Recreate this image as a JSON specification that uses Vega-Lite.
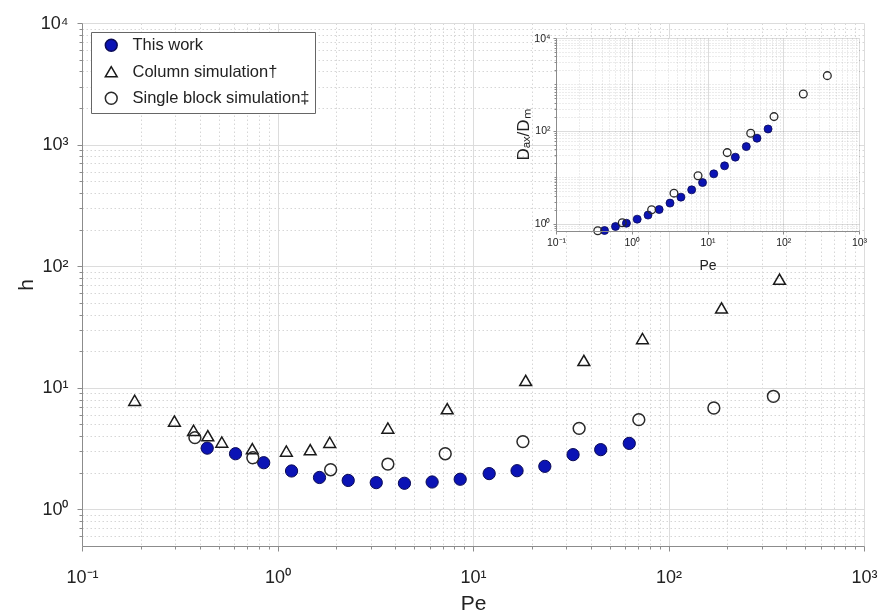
{
  "$schema": "https://vega.github.io/schema/vega-lite/v6.json",
  "width": 782,
  "height": 523,
  "autosize": {"type": "none"},
  "padding": {"left": 82, "top": 23, "right": 17, "bottom": 68},
  "background": "white",
  "config": {
    "view": {"stroke": null},
    "font": "Liberation Sans",
    "axis": {
      "labelFont": "Liberation Sans",
      "titleFont": "Liberation Sans",
      "titleFontWeight": "normal",
      "labelColor": "#222222",
      "titleColor": "#222222",
      "domainColor": "#8c8c8c",
      "tickColor": "#8c8c8c",
      "labelFlush": false,
      "labelOverlap": false
    },
    "legend": {"labelFont": "Liberation Sans", "labelColor": "#222222"}
  },
  "datasets": {
    "main": [
      {"series": "This work", "Pe": 0.437, "h": 3.19},
      {"series": "This work", "Pe": 0.61, "h": 2.87},
      {"series": "This work", "Pe": 0.85, "h": 2.42},
      {"series": "This work", "Pe": 1.18, "h": 2.07},
      {"series": "This work", "Pe": 1.64, "h": 1.83},
      {"series": "This work", "Pe": 2.3, "h": 1.73},
      {"series": "This work", "Pe": 3.2, "h": 1.66},
      {"series": "This work", "Pe": 4.46, "h": 1.64},
      {"series": "This work", "Pe": 6.18, "h": 1.68},
      {"series": "This work", "Pe": 8.6, "h": 1.77},
      {"series": "This work", "Pe": 12.1, "h": 1.97},
      {"series": "This work", "Pe": 16.8, "h": 2.08},
      {"series": "This work", "Pe": 23.3, "h": 2.26},
      {"series": "This work", "Pe": 32.5, "h": 2.82},
      {"series": "This work", "Pe": 45.0, "h": 3.1},
      {"series": "This work", "Pe": 63.0, "h": 3.49},
      {"series": "Column simulation†", "Pe": 0.186, "h": 7.89},
      {"series": "Column simulation†", "Pe": 0.297, "h": 5.33},
      {"series": "Column simulation†", "Pe": 0.372, "h": 4.47},
      {"series": "Column simulation†", "Pe": 0.44, "h": 4.04},
      {"series": "Column simulation†", "Pe": 0.519, "h": 3.58},
      {"series": "Column simulation†", "Pe": 0.743, "h": 3.16},
      {"series": "Column simulation†", "Pe": 1.11, "h": 3.02},
      {"series": "Column simulation†", "Pe": 1.47, "h": 3.1},
      {"series": "Column simulation†", "Pe": 1.85, "h": 3.56},
      {"series": "Column simulation†", "Pe": 3.67, "h": 4.67},
      {"series": "Column simulation†", "Pe": 7.38, "h": 6.74},
      {"series": "Column simulation†", "Pe": 18.6, "h": 11.5},
      {"series": "Column simulation†", "Pe": 36.9, "h": 16.8},
      {"series": "Column simulation†", "Pe": 73.6, "h": 25.4},
      {"series": "Column simulation†", "Pe": 186.7, "h": 45.4},
      {"series": "Column simulation†", "Pe": 369.6, "h": 78.2},
      {"series": "Single block simulation‡", "Pe": 0.378, "h": 3.89},
      {"series": "Single block simulation‡", "Pe": 0.748, "h": 2.66},
      {"series": "Single block simulation‡", "Pe": 1.87, "h": 2.12},
      {"series": "Single block simulation‡", "Pe": 3.67, "h": 2.36},
      {"series": "Single block simulation‡", "Pe": 7.21, "h": 2.87},
      {"series": "Single block simulation‡", "Pe": 18.0, "h": 3.61},
      {"series": "Single block simulation‡", "Pe": 34.9, "h": 4.64},
      {"series": "Single block simulation‡", "Pe": 70.5, "h": 5.47},
      {"series": "Single block simulation‡", "Pe": 170.6, "h": 6.82},
      {"series": "Single block simulation‡", "Pe": 344.0, "h": 8.51}
    ],
    "inset": [
      {"series": "This work", "Pe": 0.437, "Dax_Dm": 0.718},
      {"series": "This work", "Pe": 0.61, "Dax_Dm": 0.875},
      {"series": "This work", "Pe": 0.85, "Dax_Dm": 1.03},
      {"series": "This work", "Pe": 1.18, "Dax_Dm": 1.26},
      {"series": "This work", "Pe": 1.64, "Dax_Dm": 1.54},
      {"series": "This work", "Pe": 2.3, "Dax_Dm": 2.03},
      {"series": "This work", "Pe": 3.2, "Dax_Dm": 2.79},
      {"series": "This work", "Pe": 4.46, "Dax_Dm": 3.75},
      {"series": "This work", "Pe": 6.18, "Dax_Dm": 5.38},
      {"series": "This work", "Pe": 8.6, "Dax_Dm": 7.73},
      {"series": "This work", "Pe": 12.1, "Dax_Dm": 11.9},
      {"series": "This work", "Pe": 16.8, "Dax_Dm": 17.7},
      {"series": "This work", "Pe": 23.3, "Dax_Dm": 27.2},
      {"series": "This work", "Pe": 32.5, "Dax_Dm": 45.9},
      {"series": "This work", "Pe": 45.0, "Dax_Dm": 69.6},
      {"series": "This work", "Pe": 63.0, "Dax_Dm": 110},
      {"series": "Single block simulation‡", "Pe": 0.356, "Dax_Dm": 0.71},
      {"series": "Single block simulation‡", "Pe": 0.75, "Dax_Dm": 1.05},
      {"series": "Single block simulation‡", "Pe": 1.83, "Dax_Dm": 2.0},
      {"series": "Single block simulation‡", "Pe": 3.61, "Dax_Dm": 4.57},
      {"series": "Single block simulation‡", "Pe": 7.5, "Dax_Dm": 10.8},
      {"series": "Single block simulation‡", "Pe": 18.2, "Dax_Dm": 34.1},
      {"series": "Single block simulation‡", "Pe": 37.2, "Dax_Dm": 89.2},
      {"series": "Single block simulation‡", "Pe": 75.5, "Dax_Dm": 203},
      {"series": "Single block simulation‡", "Pe": 184, "Dax_Dm": 625},
      {"series": "Single block simulation‡", "Pe": 382, "Dax_Dm": 1548}
    ]
  },
  "resolve": {"scale": {"x": "independent", "y": "independent"}},
  "layer": [
    {
      "data": {"name": "main"},
      "transform": [{"filter": "datum.series === 'This work'"}],
      "mark": {"type": "point", "filled": true, "opacity": 1, "size": 150, "strokeWidth": 1},
      "encoding": {
        "x": {
          "field": "Pe", "type": "quantitative",
          "scale": {"type": "log", "domain": [0.1, 1000], "nice": false},
          "axis": {
            "orient": "bottom", "title": "Pe", "titleFontSize": 21, "titlePadding": 6,
            "values": [0.1, 1, 10, 100, 1000],
            "labelExpr": "datum.value < 0.5 ? '10⁻¹' : datum.value < 5 ? '10⁰' : datum.value < 50 ? '10¹' : datum.value < 500 ? '10²' : '10³'",
            "labelFontSize": 18, "labelPadding": 17, "tickSize": 5,
            "grid": true, "gridColor": "#dcdcdc", "gridWidth": 1
          }
        },
        "y": {
          "field": "h", "type": "quantitative",
          "scale": {"type": "log", "domain": [0.5, 10000], "nice": false},
          "axis": {
            "orient": "left", "title": "h", "titleFontSize": 21, "titleAngle": -90, "titlePadding": 4,
            "values": [1, 10, 100, 1000, 10000],
            "labelExpr": "datum.value < 5 ? '10⁰' : datum.value < 50 ? '10¹' : datum.value < 500 ? '10²' : datum.value < 5000 ? '10³' : '10⁴'",
            "labelFontSize": 18, "labelPadding": 9, "tickSize": 5,
            "grid": true, "gridColor": "#dcdcdc", "gridWidth": 1
          }
        },
        "fill": {
          "field": "series", "type": "nominal",
          "scale": {"domain": ["This work", "Column simulation†", "Single block simulation‡"], "range": ["#0b13b5", "transparent", "transparent"]},
          "legend": {
            "orient": "top-left", "offset": 9, "title": null,
            "labelFontSize": 16.5, "labelLimit": 0, "symbolSize": 140, "symbolStrokeWidth": 1.5,
            "padding": 5, "rowPadding": 8.5, "labelOffset": 13, "symbolOffset": 7,
            "fillColor": "white", "strokeColor": "#666666"
          }
        },
        "stroke": {
          "field": "series", "type": "nominal",
          "scale": {"domain": ["This work", "Column simulation†", "Single block simulation‡"], "range": ["#0a0a55", "#1a1a1a", "#2a2a2a"]}
        },
        "shape": {
          "field": "series", "type": "nominal",
          "scale": {"domain": ["This work", "Column simulation†", "Single block simulation‡"], "range": ["circle", "triangle-up", "circle"]}
        }
      }
    },
    {
      "data": {"name": "main"},
      "transform": [{"filter": "datum.series === 'Column simulation†'"}],
      "mark": {"type": "point", "filled": true, "opacity": 1, "size": 140, "strokeWidth": 1.5},
      "encoding": {
        "x": {
          "field": "Pe", "type": "quantitative",
          "scale": {"type": "log", "domain": [0.1, 1000], "nice": false},
          "axis": {
            "orient": "bottom", "title": null, "labels": false, "domain": false,
            "values": [0.2, 0.3, 0.4, 0.5, 0.6, 0.7, 0.8, 0.9, 2, 3, 4, 5, 6, 7, 8, 9, 20, 30, 40, 50, 60, 70, 80, 90, 200, 300, 400, 500, 600, 700, 800, 900],
            "tickSize": 3, "grid": true, "gridColor": "#d6d6d6", "gridDash": [1.5, 2.5]
          }
        },
        "y": {
          "field": "h", "type": "quantitative",
          "scale": {"type": "log", "domain": [0.5, 10000], "nice": false},
          "axis": {
            "orient": "left", "title": null, "labels": false, "domain": false,
            "values": [0.6, 0.7, 0.8, 0.9, 2, 3, 4, 5, 6, 7, 8, 9, 20, 30, 40, 50, 60, 70, 80, 90, 200, 300, 400, 500, 600, 700, 800, 900, 2000, 3000, 4000, 5000, 6000, 7000, 8000, 9000],
            "tickSize": 3, "grid": true, "gridColor": "#d6d6d6", "gridDash": [1.5, 2.5]
          }
        },
        "fill": {"field": "series", "type": "nominal", "scale": {"domain": ["This work", "Column simulation†", "Single block simulation‡"], "range": ["#0b13b5", "transparent", "transparent"]}},
        "stroke": {"field": "series", "type": "nominal", "scale": {"domain": ["This work", "Column simulation†", "Single block simulation‡"], "range": ["#0a0a55", "#1a1a1a", "#2a2a2a"]}},
        "shape": {"field": "series", "type": "nominal", "scale": {"domain": ["This work", "Column simulation†", "Single block simulation‡"], "range": ["circle", "triangle-up", "circle"]}}
      }
    },
    {
      "data": {"name": "main"},
      "transform": [{"filter": "datum.series === 'Single block simulation‡'"}],
      "mark": {"type": "point", "filled": true, "opacity": 1, "size": 140, "strokeWidth": 1.5},
      "encoding": {
        "x": {"field": "Pe", "type": "quantitative", "scale": {"type": "log", "domain": [0.1, 1000], "nice": false}, "axis": null},
        "y": {"field": "h", "type": "quantitative", "scale": {"type": "log", "domain": [0.5, 10000], "nice": false}, "axis": null},
        "fill": {"field": "series", "type": "nominal", "scale": {"domain": ["This work", "Column simulation†", "Single block simulation‡"], "range": ["#0b13b5", "transparent", "transparent"]}},
        "stroke": {"field": "series", "type": "nominal", "scale": {"domain": ["This work", "Column simulation†", "Single block simulation‡"], "range": ["#0a0a55", "#1a1a1a", "#2a2a2a"]}},
        "shape": {"field": "series", "type": "nominal", "scale": {"domain": ["This work", "Column simulation†", "Single block simulation‡"], "range": ["circle", "triangle-up", "circle"]}}
      }
    },
    {
      "data": {"values": [{"panel": "inset"}]},
      "mark": {"type": "rect", "fill": "white", "stroke": null},
      "encoding": {
        "x": {
          "datum": 0.1, "type": "quantitative",
          "scale": {"type": "log", "domain": [0.1, 1000], "nice": false, "range": [474, 777]},
          "axis": {
            "orient": "top", "title": null, "labels": false, "ticks": false, "domain": false, "zindex": 1,
            "values": [0.1, 1, 10, 100, 1000],
            "grid": true, "gridColor": "#dcdcdc", "gridWidth": 1,
            "encoding": {"grid": {"blend": {"value": "multiply"}}}
          }
        },
        "x2": {"datum": 1000},
        "y": {
          "datum": 0.7, "type": "quantitative",
          "scale": {"type": "log", "domain": [0.7, 10000], "nice": false, "range": [208, 15]},
          "axis": {
            "orient": "left", "offset": -474, "zindex": 1,
            "title": "Dₐₓ/Dₘ", "titleFontSize": 17, "titlePadding": 1,
            "values": [1, 100, 10000],
            "labelExpr": "datum.value < 5 ? '10⁰' : datum.value < 500 ? '10²' : '10⁴'",
            "labelFontSize": 10.5, "labelPadding": 3, "tickSize": 3,
            "grid": true, "gridColor": "#dcdcdc", "gridWidth": 1,
            "encoding": {"grid": {"blend": {"value": "multiply"}}}
          }
        },
        "y2": {"datum": 10000}
      }
    },
    {
      "data": {"name": "inset"},
      "transform": [{"filter": "datum.series === 'This work'"}],
      "mark": {"type": "point", "filled": true, "opacity": 1, "size": 64, "fill": "#0b13b5", "stroke": "#0a0a55", "strokeWidth": 0.8, "shape": "circle"},
      "encoding": {
        "x": {
          "field": "Pe", "type": "quantitative",
          "scale": {"type": "log", "domain": [0.1, 1000], "nice": false, "range": [474, 777]},
          "axis": {
            "orient": "bottom", "offset": -315, "zindex": 1,
            "title": "Pe", "titleFontSize": 14, "titlePadding": 11,
            "values": [0.1, 1, 10, 100, 1000],
            "labelExpr": "datum.value < 0.5 ? '10⁻¹' : datum.value < 5 ? '10⁰' : datum.value < 50 ? '10¹' : datum.value < 500 ? '10²' : '10³'",
            "labelFontSize": 10.5, "labelPadding": 3, "tickSize": 3, "grid": false
          }
        },
        "y": {
          "field": "Dax_Dm", "type": "quantitative",
          "scale": {"type": "log", "domain": [0.7, 10000], "nice": false, "range": [208, 15]},
          "axis": {
            "orient": "left", "offset": -474, "zindex": 1,
            "title": null, "labels": false, "domain": false,
            "values": [0.8, 0.9, 2, 3, 4, 5, 6, 7, 8, 9, 10, 20, 30, 40, 50, 60, 70, 80, 90, 200, 300, 400, 500, 600, 700, 800, 900, 1000, 2000, 3000, 4000, 5000, 6000, 7000, 8000, 9000],
            "tickSize": 2, "grid": true, "gridColor": "#d9d9d9", "gridDash": [1, 2],
            "encoding": {"grid": {"blend": {"value": "multiply"}}}
          }
        }
      }
    },
    {
      "data": {"name": "inset"},
      "transform": [{"filter": "datum.series === 'Single block simulation‡'"}],
      "mark": {"type": "point", "filled": true, "opacity": 1, "size": 60, "fill": "transparent", "stroke": "#2a2a2a", "strokeWidth": 1.3, "shape": "circle"},
      "encoding": {
        "x": {
          "field": "Pe", "type": "quantitative",
          "scale": {"type": "log", "domain": [0.1, 1000], "nice": false, "range": [474, 777]},
          "axis": {
            "orient": "top", "zindex": 1, "title": null, "labels": false, "ticks": false, "domain": false,
            "values": [0.2, 0.3, 0.4, 0.5, 0.6, 0.7, 0.8, 0.9, 2, 3, 4, 5, 6, 7, 8, 9, 20, 30, 40, 50, 60, 70, 80, 90, 200, 300, 400, 500, 600, 700, 800, 900],
            "grid": true, "gridColor": "#d9d9d9", "gridDash": [1, 2],
            "encoding": {"grid": {"blend": {"value": "multiply"}}}
          }
        },
        "y": {
          "field": "Dax_Dm", "type": "quantitative",
          "scale": {"type": "log", "domain": [0.7, 10000], "nice": false, "range": [208, 15]},
          "axis": null
        }
      }
    }
  ]
}
